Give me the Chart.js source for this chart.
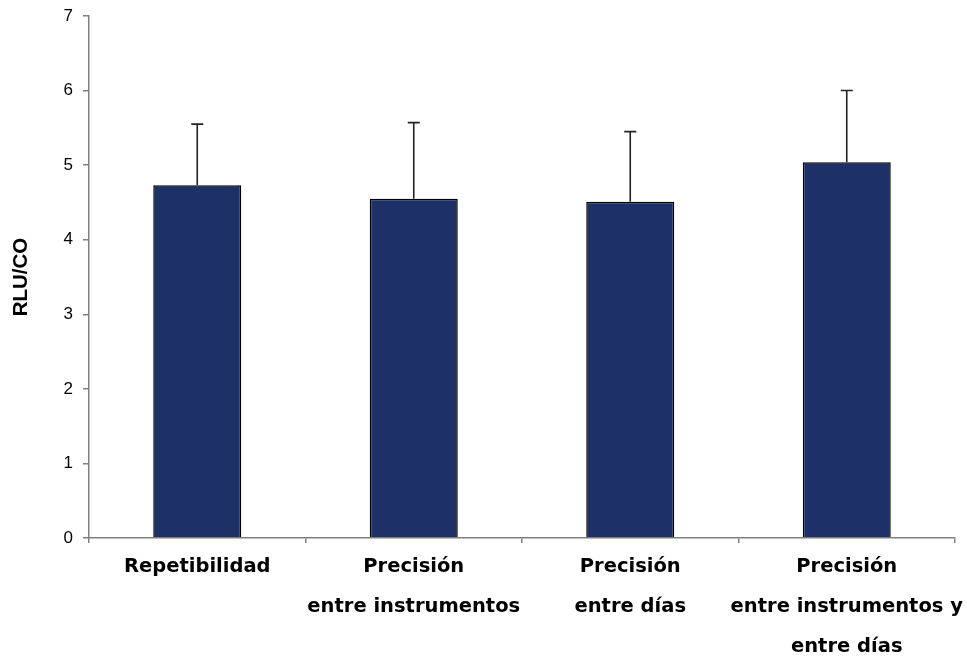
<!DOCTYPE html>
<html>
<head>
<meta charset="utf-8">
<script src="https://cdn.jsdelivr.net/npm/chart.js@4/dist/chart.umd.min.js"></script>
<style>
  html, body { margin: 0; padding: 0; background: #fff; }
  #wrap { width: 967px; height: 657px; }
</style>
</head>
<body>
<div id="wrap"><canvas id="c" width="967" height="657"></canvas></div>
<script>
// Categories (multi-line axis labels)
const categories = [
  ['Repetibilidad'],
  ['Precisión', 'entre instrumentos'],
  ['Precisión', 'entre días'],
  ['Precisión', 'entre instrumentos y', 'entre días']
];
// Mean RLU/CO per precision study
const means = [4.73, 4.55, 4.51, 5.04];
// Standard deviation shown as upper error bar
const errors = [0.82, 1.02, 0.94, 0.96];
// Y axis range
const yMin = 0, yMax = 7, yStep = 1;

const axisGray = '#808080';

// Draws a one-sided (upward) error bar with a cap on each bar
const errorBarPlugin = {
  id: 'errorBars',
  afterDatasetsDraw(chart) {
    const ctx = chart.ctx;
    const meta = chart.getDatasetMeta(0);
    const y = chart.scales.y;
    ctx.save();
    ctx.strokeStyle = '#222';
    ctx.lineWidth = 1.6;
    meta.data.forEach((bar, i) => {
      const x = bar.x;
      const yTop = y.getPixelForValue(means[i] + errors[i]);
      const yBase = y.getPixelForValue(means[i]);
      ctx.beginPath();
      ctx.moveTo(x, yBase);
      ctx.lineTo(x, yTop);
      ctx.moveTo(x - 6, yTop);
      ctx.lineTo(x + 6, yTop);
      ctx.stroke();
    });
    ctx.restore();
  }
};

new Chart(document.getElementById('c'), {
  type: 'bar',
  data: {
    labels: categories,
    datasets: [{
      data: means,
      backgroundColor: '#1d3067',
      borderColor: '#000000',
      borderWidth: 1.5,
      barPercentage: 0.4065,
      categoryPercentage: 1.0
    }]
  },
  options: {
    responsive: false,
    animation: false,
    events: [],
    layout: { padding: { top: 16, right: 12, bottom: 0, left: 0 } },
    plugins: {
      legend: { display: false },
      tooltip: { enabled: false }
    },
    scales: {
      x: {
        grid: {
          display: true,
          drawOnChartArea: false,
          drawTicks: true,
          tickLength: 5,
          color: axisGray,
          lineWidth: 1.5,
          offset: true
        },
        border: { color: axisGray, width: 1.5 },
        ticks: {
          color: '#000',
          padding: 4,
          maxRotation: 0,
          autoSkip: false,
          font: { family: '"DejaVu Sans", sans-serif', weight: 'bold', size: 19.5, lineHeight: 2.05 }
        },
        afterFit(scale) {
          scale.height = 119;
          scale.paddingLeft = 0;
          scale.paddingRight = 0;
        }
      },
      y: {
        min: yMin,
        max: yMax,
        grid: {
          display: true,
          drawOnChartArea: false,
          drawTicks: true,
          tickLength: 6,
          color: axisGray,
          lineWidth: 1.5
        },
        border: { color: axisGray, width: 1.5 },
        ticks: {
          stepSize: yStep,
          color: '#000',
          padding: 10,
          font: { family: '"Liberation Sans", Arial, sans-serif', size: 17 }
        },
        title: {
          display: true,
          text: 'RLU/CO',
          color: '#000',
          padding: { top: 9, bottom: 0 },
          font: { family: '"Liberation Sans", Arial, sans-serif', weight: 'bold', size: 20.5 }
        },
        afterFit(scale) {
          scale.width = 89;
          scale.paddingTop = 0;
          scale.paddingBottom = 0;
        }
      }
    }
  },
  plugins: [errorBarPlugin]
});
</script>
</body>
</html>
